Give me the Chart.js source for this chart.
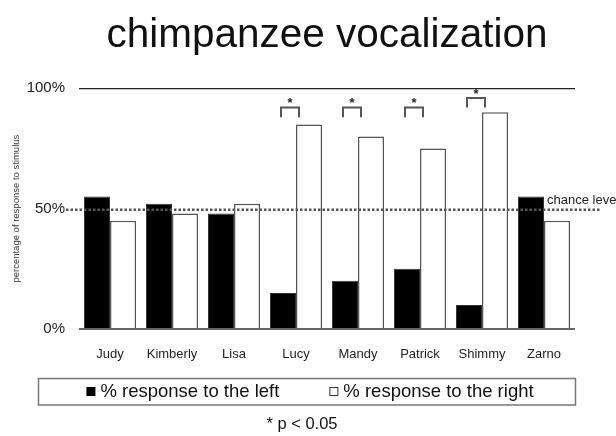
<!DOCTYPE html>
<html>
<head>
<meta charset="utf-8">
<script src="https://cdn.jsdelivr.net/npm/chart.js@4/dist/chart.umd.min.js"></script>
<style>
  html, body { margin: 0; padding: 0; background: #fff; }
  canvas { display: block; }
</style>
</head>
<body>
<canvas id="c" width="616" height="436"></canvas>
<script>
const titleText = 'chimpanzee vocalization';
const categories = ['Judy', 'Kimberly', 'Lisa', 'Lucy', 'Mandy', 'Patrick', 'Shimmy', 'Zarno'];
const leftValues = [55, 52, 48, 15, 20, 25, 10, 55];
const rightValues = [45, 48, 52, 85, 80, 75, 90, 45];
const seriesLabels = ['% response to the left', '% response to the right'];
const significant = [false, false, false, true, true, true, true, false];
const bracketLevels = [null, null, null, 92, 92, 92, 96, null];
const bracketDrop = 4;
const yTicks = [0, 50, 100];
const chanceLevel = 50;
const chanceLabel = 'chance level';
const yTitle = 'percentage of response to stimulus';
const footnote = '* p < 0.05';

const FONT = "'Liberation Sans', Arial, Helvetica, sans-serif";

const extras = {
  id: 'extras',
  afterDatasetsDraw(chart) {
    const ctx = chart.ctx;
    const x = chart.scales.x, y = chart.scales.y;
    ctx.save();
    // chance level dotted line
    const cy = y.getPixelForValue(chanceLevel) + 1;
    ctx.setLineDash([2.5, 2]);
    ctx.lineWidth = 2.5;
    ctx.strokeStyle = '#555';
    ctx.beginPath();
    ctx.moveTo(66, cy);
    ctx.lineTo(600, cy);
    ctx.stroke();
    ctx.setLineDash([]);
    ctx.fillStyle = '#222';
    ctx.font = '13px ' + FONT;
    ctx.textAlign = 'left';
    ctx.textBaseline = 'middle';
    ctx.fillText(chanceLabel, 547, cy - 9);

    // significance brackets
    ctx.strokeStyle = '#555';
    ctx.lineWidth = 2;
    ctx.font = 'bold 13px ' + FONT;
    ctx.textAlign = 'center';
    significant.forEach((s, i) => {
      if (!s) return;
      const c = x.getPixelForValue(i) - 6;
      const top = y.getPixelForValue(bracketLevels[i]);
      const bottom = y.getPixelForValue(bracketLevels[i] - bracketDrop);
      ctx.beginPath();
      ctx.moveTo(c - 9, bottom);
      ctx.lineTo(c - 9, top);
      ctx.lineTo(c + 9, top);
      ctx.lineTo(c + 9, bottom);
      ctx.stroke();
      ctx.fillStyle = '#222';
      ctx.fillText('*', c, top - 4);
    });
    ctx.restore();
  },
  afterDraw(chart) {
    const ctx = chart.ctx;
    ctx.save();
    // legend box
    ctx.strokeStyle = '#777';
    ctx.lineWidth = 1.5;
    ctx.strokeRect(38.5, 378.5, 537, 26.5);
    ctx.font = '18.5px ' + FONT;
    ctx.textBaseline = 'middle';
    ctx.textAlign = 'left';
    const sq = 9, sqGap = 5, itemGap = 50;
    const w1 = ctx.measureText(seriesLabels[0]).width;
    const w2 = ctx.measureText(seriesLabels[1]).width;
    const total = sq + sqGap + w1 + itemGap + sq + sqGap + w2;
    let px = 307 - total / 2 + 3;
    const ly = 391.5;
    ctx.fillStyle = '#000';
    ctx.fillRect(px, ly - 4.5, sq, sq);
    px += sq + sqGap;
    ctx.fillStyle = '#111';
    ctx.fillText(seriesLabels[0], px, ly);
    px += w1 + itemGap;
    ctx.strokeStyle = '#333';
    ctx.lineWidth = 1;
    ctx.strokeRect(px + 0.5, ly - 4, sq - 1, sq - 1);
    px += sq + sqGap;
    ctx.fillText(seriesLabels[1], px, ly);
    // footnote
    ctx.font = '16.5px ' + FONT;
    ctx.textAlign = 'center';
    ctx.fillText(footnote, 302, 424);
    ctx.restore();
  }
};

new Chart(document.getElementById('c'), {
  type: 'bar',
  data: {
    labels: categories,
    datasets: [
      { label: seriesLabels[0], data: leftValues, backgroundColor: '#000', borderColor: '#333', borderWidth: 1 },
      { label: seriesLabels[1], data: rightValues, backgroundColor: '#fff', borderColor: '#555', borderWidth: 1.5 }
    ]
  },
  options: {
    responsive: false,
    devicePixelRatio: 1,
    animation: false,
    layout: { padding: { left: 4, right: 41, top: 0, bottom: 67 } },
    datasets: { bar: { categoryPercentage: 0.84, barPercentage: 1 } },
    plugins: {
      legend: { display: false },
      tooltip: { enabled: false },
      title: {
        display: true,
        text: titleText,
        fullSize: false,
        color: '#111',
        font: { family: FONT, size: 40.5, weight: 'normal' },
        padding: { top: 12, bottom: 27.7 }
      }
    },
    scales: {
      x: {
        grid: { display: false },
        border: { display: false },
        ticks: { color: '#222', font: { family: FONT, size: 13 }, padding: 10 },
        afterFit: s => { s.height = 40; }
      },
      y: {
        min: 0,
        max: 100,
        afterBuildTicks: s => { s.ticks = yTicks.map(v => ({ value: v })); },
        ticks: { color: '#222', font: { family: FONT, size: 15 }, padding: 14, callback: v => v + '%' },
        grid: {
          drawTicks: false,
          color: c => c.tick.value === 0 ? '#666' : (c.tick.value === 100 ? '#222' : 'rgba(0,0,0,0)'),
          lineWidth: c => c.tick.value === 0 ? 2 : 1.2
        },
        border: { display: false },
        title: { display: true, text: yTitle, color: '#333', font: { family: FONT, size: 9.5 }, padding: { top: 7, bottom: 0 } },
        afterFit: s => { s.width = 75; }
      }
    }
  },
  plugins: [extras]
});
</script>
</body>
</html>
